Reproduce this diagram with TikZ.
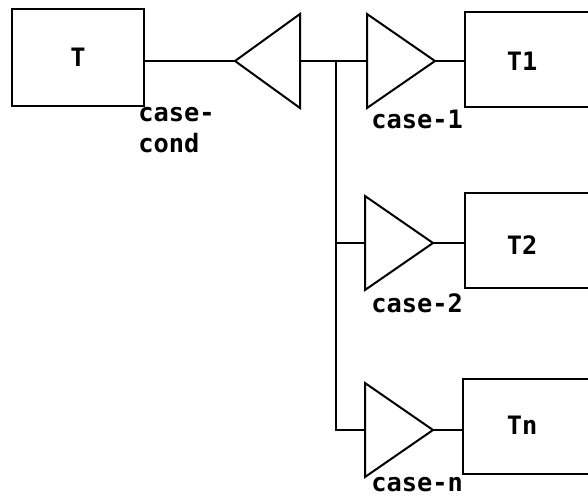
\documentclass[tikz,border=0pt]{standalone}
\usepackage{fontspec}
\setmonofont{DejaVu Sans Mono}
\usetikzlibrary{shapes.geometric}

\tikzset{
  blk/.style={draw, line width=1.5pt, rectangle, inner sep=0pt, outer sep=0pt, minimum width=120pt, minimum height=71pt},
  amp/.style={draw, line width=1.5pt, isosceles triangle, isosceles triangle stretches, inner sep=0pt, outer sep=0pt, minimum width=70.5pt, minimum height=51pt, anchor=apex},
  lbl/.style={font=\ttfamily\bfseries\fontsize{19}{23}\selectfont, inner sep=0pt},
  wire/.style={line width=1.5pt}
}

\begin{document}
\begin{tikzpicture}[x=0.75pt,y=0.75pt,yscale=-1,xscale=1]
\clip (0,0) rectangle (588,496);

%Shapes
\node [blk, minimum width=99pt, minimum height=72.75pt] (t) at (78,57.5) {};
\node [amp, shape border rotate=180, minimum height=48.75pt] (cond) at (235,61) {};
\node [amp] (c1) at (435,61) {};
\node [amp] (c2) at (433,243) {};
\node [amp] (cn) at (433,430) {};
\node [blk, anchor=north west] (t1) at (465,12) {};
\node [blk, anchor=north west] (t2) at (465,193) {};
\node [blk, anchor=north west] (tn) at (463,379) {};
\coordinate (jn) at (336,61);

%Straight Lines
\draw [wire] (cond.apex) -- (cond.apex -| t.east);
\draw [wire] (cond.east) -- (c1.west);
\draw [wire] (jn) |- (cn.west);
\draw [wire] (c2.west -| jn) -- (c2.west);
\draw [wire] (c1.apex) -- (c1.apex -| t1.west);
\draw [wire] (c2.apex) -- (c2.apex -| t2.west);
\draw [wire] (cn.apex) -- (cn.apex -| tn.west);

% Text Node
\node [lbl] (tt) at (78,57) {T};
\node [lbl] (tt1) at (522,61) {T1};
\node [lbl] (tt2) at (522,245) {T2};
\node [lbl] (ttn) at (522,425) {Tn};
\node [lbl, anchor=north west, align=left] (lc) at (138,107) {case-\\cond};
\node [lbl, anchor=north west] (l1) at (371,110) {case-1};
\node [lbl, anchor=north west] (l2) at (371,293) {case-2};
\node [lbl, anchor=north west] (ln) at (371,477) {case-n};

\end{tikzpicture}
\end{document}
